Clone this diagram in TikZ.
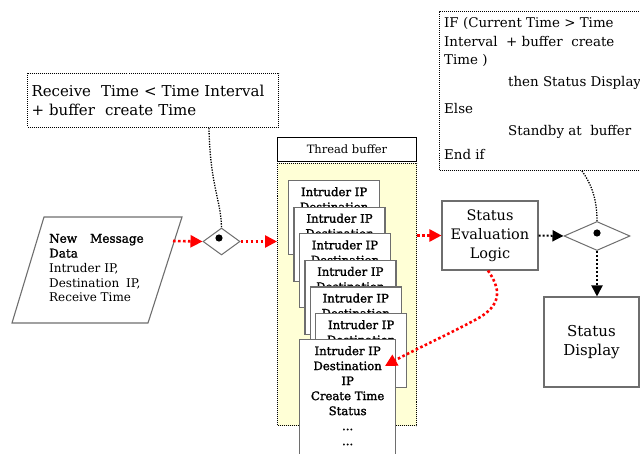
\documentclass[tikz,border=0pt]{standalone}
\usepackage{fontspec}
\setmainfont{DejaVu Serif}
\newfontfamily\heavy[FakeBold=1.6]{DejaVu Serif}
\usetikzlibrary{arrows.meta,shapes.geometric,calc}
\definecolor{padyellow}{RGB}{255,255,214}
\definecolor{edgegray}{RGB}{110,110,110}
\tikzset{
  dotbox/.style={draw=black, line width=1pt, dash pattern=on 1pt off 1pt, inner sep=0pt},
  plainbox/.style={draw=edgegray, line width=1.1pt, fill=white, inner sep=0pt, align=center},
  hubdiamond/.style={draw=edgegray, line width=1pt, diamond, fill=white, inner sep=0pt},
  redflow/.style={draw=red, line width=2.6pt, dash pattern=on 2.6pt off 2.4pt,
    -{Triangle[length=12pt,width=12pt]}, red},
  blackflow/.style={draw=black, line width=2pt, dash pattern=on 2pt off 2pt,
    -{Triangle[length=11pt,width=11pt]}},
  thinlink/.style={draw=black, line width=1.3pt, dash pattern=on 1.3pt off 1.3pt},
  cardbox/.style={draw=edgegray, line width=1.3pt, fill=white, inner sep=0pt,
    minimum width=91pt, minimum height=74pt, anchor=north west},
  cardtext/.style={font=\heavy\fontsize{11.7}{15}\selectfont, align=center,
    inner sep=0pt, anchor=north},
}
\begin{document}
\begin{tikzpicture}[x=1pt,y=-1pt]
\useasboundingbox (0,0) rectangle (640,454);

% condition for entering the buffer
\node[dotbox, anchor=north west, minimum width=251pt, minimum height=54pt,
      text width=243pt, align=left, inner xsep=4pt,
      font=\fontsize{15}{19.5}\selectfont] (cond) at (27,73)
  {Receive~~Time < Time Interval\\+ buffer~~create Time};

% rule for leaving the buffer
\node[dotbox, anchor=north west, minimum width=215pt, minimum height=159pt] (rule) at (439,11) {};
\begin{scope}[every node/.style={anchor=west, inner sep=0pt, font=\fontsize{13.4}{16}\selectfont}]
  \node (r1) at (444,23) {IF (Current Time > Time};
  \node (r2) at (444,42) {Interval~~+ buffer~~create};
  \node (r3) at (444,60) {Time )};
  \node (r4) at (508,83) {then Status Display};
  \node (r5) at (444,109) {Else};
  \node (r6) at (508,132) {Standby at~~buffer};
  \node (r7) at (444,155) {End if};
\end{scope}

% incoming message (parallelogram)
\draw[edgegray, line width=1.1pt, fill=white] (44,217) -- (182,217) -- (148,323) -- (12,323) -- cycle;
\node[anchor=west, align=left, inner sep=0pt, font=\fontsize{12}{14.8}\selectfont] (msg) at (49,268)
  {{\heavy New\hspace{13pt}Message}\\{\heavy Data}\\Intruder IP,\\Destination\hspace{7pt}IP,\\Receive Time};
\coordinate (msgout) at (173,241);

% first decision point
\node[hubdiamond, minimum width=37pt, minimum height=27pt] (d1) at (221.5,241.5) {};
\fill (219,238) circle (3.6pt);

% thread buffer
\node[plainbox, draw=black, line width=1pt, anchor=north west, minimum width=139pt, minimum height=24pt,
      font=\fontsize{11.5}{14}\selectfont] (hdr) at (277,137) {Thread buffer};
\node[dotbox, fill=padyellow, anchor=north west, minimum width=139pt, minimum height=262pt] (buf) at (277,163) {};

% stacked buffer entries (only the top lines show above the next entry)
\foreach \i in {0,...,5} {
  \node[cardbox] (c\i) at ({288+5.4*\i},{180+26.6*\i}) {};
  \begin{scope}
    \clip (c\i.north west) rectangle (c\i.south east);
    \node[cardtext] (t\i) at ([yshift=-7pt]c\i.north) {Intruder IP\\Destination};
  \end{scope}
}
\node[cardbox, minimum width=96pt, minimum height=130pt] (front) at (299,339) {};
\node[cardtext] (tf) at ([yshift=-7pt]front.north) {Intruder IP\\Destination\\IP\\Create Time\\Status\\...\\...};

% evaluation and display
\node[plainbox, minimum width=96pt, minimum height=69pt, font=\fontsize{14.5}{19}\selectfont] (sel) at (490,235.5)
  {Status\\Evaluation\\Logic};
\node[hubdiamond, minimum width=66pt, minimum height=29pt] (d2) at (597,236) {};
\fill (597,233) circle (3.6pt);
\node[plainbox, minimum width=95pt, minimum height=90pt, font=\fontsize{15}{19}\selectfont] (disp) at (591.5,342)
  {Status\\Display};

% connectors
\draw[redflow] (msgout) -- (d1.west);
\draw[redflow] (d1.east) -- (d1.east -| buf.west);
\draw[redflow] (buf.east |- sel.west) -- (sel.west);
\draw[blackflow] (sel.east) -- (d2.west);
\draw[blackflow] (d2.south) -- (d2.south |- disp.north);
\draw[thinlink] ([xshift=182pt]cond.south west) .. controls (210,185) and (221,200) .. (d1.north);
\draw[thinlink] ([xshift=143pt]rule.south west) .. controls (592,185) and (597,200) .. (d2.north);
\coordinate (ptr) at (385,366);
\draw[redflow] ([xshift=-2pt]sel.south) .. controls (500,288) and (504,305) .. (475,320)
  .. controls (445,336) and (410,352) .. (ptr);
\end{tikzpicture}
\end{document}
